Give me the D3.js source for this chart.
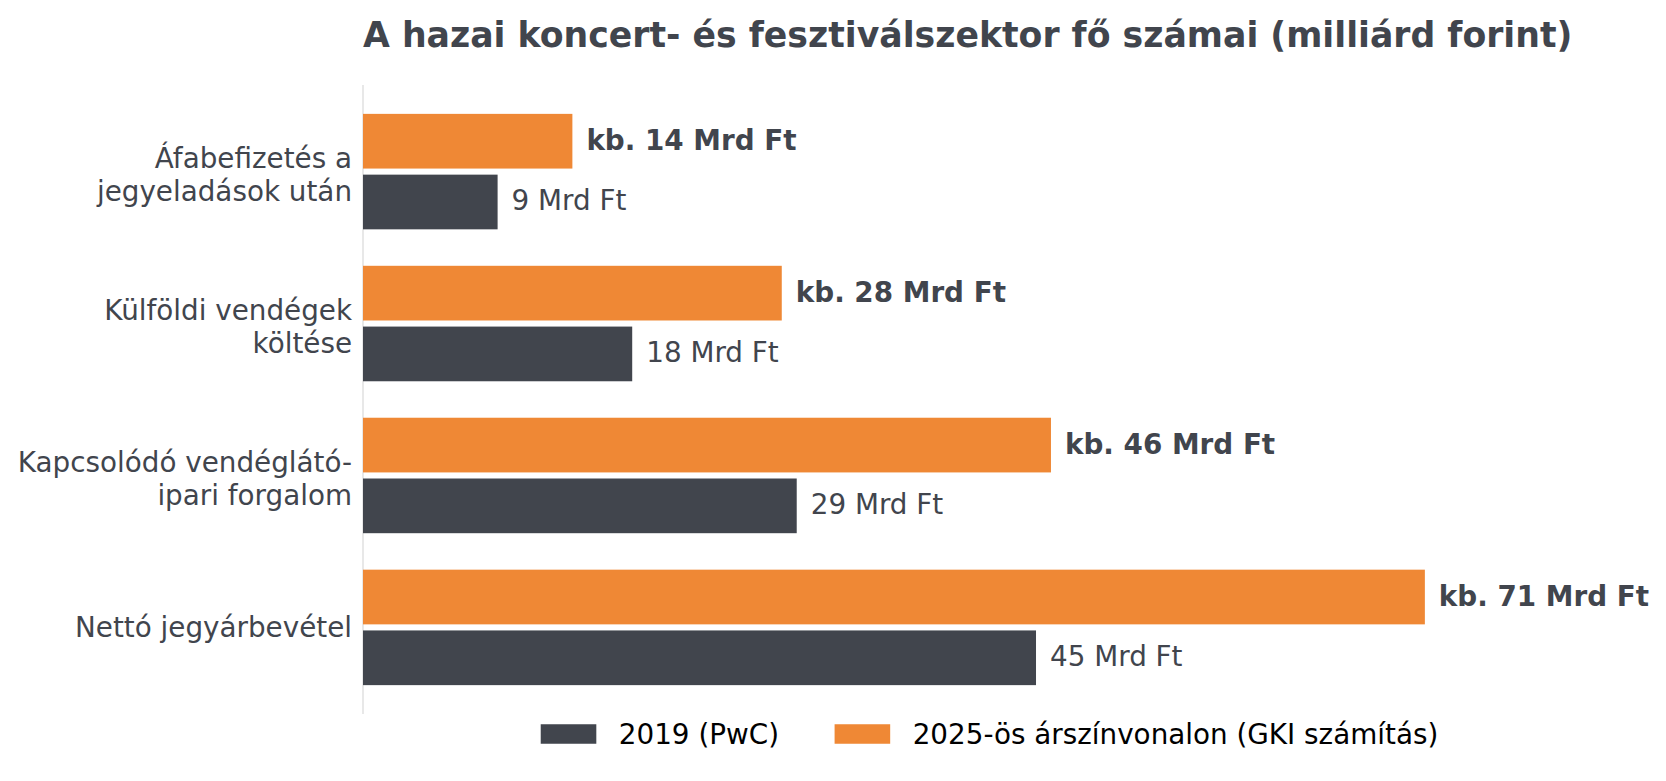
<!DOCTYPE html>
<html>
<head>
<meta charset="utf-8">
<script src="https://cdn.jsdelivr.net/npm/d3@7"></script>
<style>
  html, body { margin: 0; padding: 0; background: #ffffff; }
  svg { display: block; font-family: "DejaVu Sans", sans-serif; }
</style>
</head>
<body>
<svg id="chart" width="1666" height="781"></svg>
<script>
const title = "A hazai koncert- és fesztiválszektor fő számai (milliárd forint)";
const categories = [
  "Áfabefizetés a\njegyeladások után",
  "Külföldi vendégek\nköltése",
  "Kapcsolódó vendéglátó-\nipari forgalom",
  "Nettó jegyárbevétel"
];
const values2019 = [9, 18, 29, 45];
const values2025 = [14, 28, 46, 71];
const labels2019 = ["9 Mrd Ft", "18 Mrd Ft", "29 Mrd Ft", "45 Mrd Ft"];
const labels2025 = ["kb. 14 Mrd Ft", "kb. 28 Mrd Ft", "kb. 46 Mrd Ft", "kb. 71 Mrd Ft"];
const seriesNames = ["2019 (PwC)", "2025-ös árszínvonalon (GKI számítás)"];

(function () {
const DARK = "#41454d";
const ORANGE = "#ef8835";
const TEXT = "#41454d";
const FS = 27.8;

const svg = d3.select("#chart");
const mLeft = 363, mRight = 1616, mTop = 85, mBottom = 714;

const x = d3.scaleLinear()
  .domain([0, d3.max(values2025.concat(values2019)) * 1.18])
  .range([mLeft, mRight]);
const y = d3.scaleLinear()
  .domain([-0.57, categories.length - 1 + 0.57])
  .range([mTop, mBottom]);

const off = 0.2, bh = 0.36;

// axis spine
svg.append("line")
  .attr("x1", mLeft).attr("x2", mLeft)
  .attr("y1", mTop).attr("y2", mBottom)
  .attr("stroke", "#e3e3e3").attr("stroke-width", 1.6);

// bars
const g = svg.append("g");
g.selectAll("rect.o").data(values2025).join("rect")
  .attr("class", "o")
  .attr("x", x(0))
  .attr("y", (d, i) => y(i - off - bh / 2))
  .attr("width", d => x(d) - x(0))
  .attr("height", y(bh) - y(0))
  .attr("fill", ORANGE);
g.selectAll("rect.d").data(values2019).join("rect")
  .attr("class", "d")
  .attr("x", x(0))
  .attr("y", (d, i) => y(i + off - bh / 2))
  .attr("width", d => x(d) - x(0))
  .attr("height", y(bh) - y(0))
  .attr("fill", DARK);

// value labels
g.selectAll("text.vo").data(values2025).join("text")
  .attr("class", "vo")
  .attr("x", d => x(d) + 14)
  .attr("y", (d, i) => y(i - off) + 8.5)
  .attr("font-size", FS).attr("font-weight", "bold")
  .attr("fill", TEXT)
  .text((d, i) => labels2025[i]);
g.selectAll("text.vd").data(values2019).join("text")
  .attr("class", "vd")
  .attr("x", d => x(d) + 14)
  .attr("y", (d, i) => y(i + off) + 8.5)
  .attr("font-size", FS)
  .attr("fill", TEXT)
  .text((d, i) => labels2019[i]);

// category labels
const lineGap = 33;
categories.forEach((c, i) => {
  const lines = c.split("\n");
  const n = lines.length;
  const t = svg.append("text")
    .attr("text-anchor", "end")
    .attr("font-size", FS)
    .attr("fill", TEXT);
  const base = n === 1 ? y(i) + 10 : y(i) + 12.75 - (n - 1) * lineGap / 2;
  lines.forEach((ln, k) => {
    t.append("tspan")
      .attr("x", mLeft - 11)
      .attr("y", base + k * lineGap)
      .text(ln);
  });
});

// title
svg.append("text")
  .attr("x", mLeft).attr("y", 47)
  .attr("font-size", 34.7).attr("font-weight", "bold")
  .attr("fill", TEXT)
  .text(title);

// legend
const legendColors = [DARK, ORANGE];
const lg = svg.append("g");
const handleW = 55.6, handleH = 19.5, pad = 22.5, colSp = 55.6;
let cx = 0;
seriesNames.forEach((name, i) => {
  const it = lg.append("g");
  it.append("rect").attr("x", 0).attr("y", -handleH / 2)
    .attr("width", handleW).attr("height", handleH)
    .attr("fill", legendColors[i]);
  const tx = it.append("text").attr("x", handleW + pad).attr("y", 9.5)
    .attr("font-size", FS).attr("fill", "#000").text(name);
  const w = handleW + pad + tx.node().getComputedTextLength();
  it.attr("transform", `translate(${cx},0)`);
  cx += w + colSp;
});
const totalW = cx - colSp;
lg.attr("transform", `translate(${(mLeft + mRight) / 2 - totalW / 2}, 734)`);
})();
</script>
</body>
</html>
